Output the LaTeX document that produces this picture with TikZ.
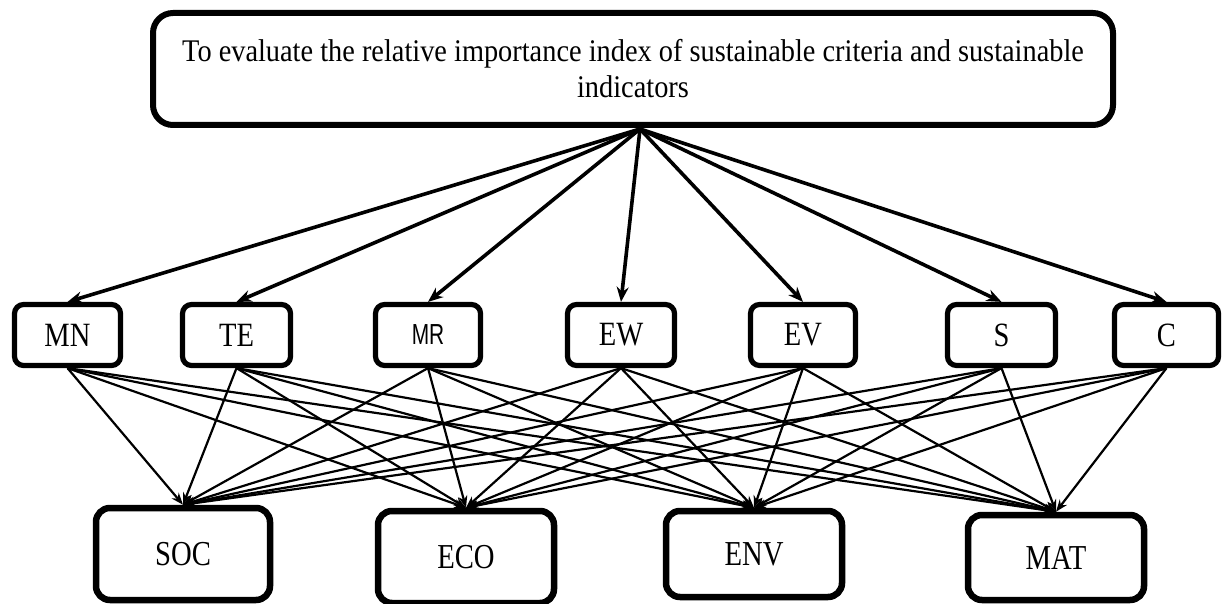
\documentclass[tikz,border=0pt]{standalone}
\usepackage{fontspec}
\setmainfont{Liberation Serif}
\newfontfamily\midfont[FakeStretch=0.84]{Liberation Serif}
\newfontfamily\botfont[FakeStretch=0.82]{Liberation Serif}
\newfontfamily\topfont[FakeStretch=0.9]{Liberation Serif}
\newfontfamily\mrfont[FakeStretch=0.72]{Liberation Sans}
\usetikzlibrary{arrows.meta,calc}
\begin{document}
\begin{tikzpicture}[x=1pt,y=-1pt,
  topbox/.style={draw,line width=6pt,rounded corners=20pt,minimum width=960pt,minimum height=112pt,inner sep=0pt,align=center,font=\topfont\fontsize{31.5}{36}\selectfont},
  midbox/.style={draw,line width=5.2pt,rounded corners=9pt,minimum height=61pt,inner sep=0pt,font=\midfont\fontsize{34}{34}\selectfont},
  botbox/.style={draw,line width=6.5pt,rounded corners=14pt,inner sep=0pt,font=\botfont\fontsize{35}{35}\selectfont},
  toparrow/.style={line width=3.6pt,-{Stealth[length=15pt,width=12pt]}},
  link/.style={line width=2.2pt,-{Stealth[length=12pt,width=9pt]}}]
\useasboundingbox (0,0) rectangle (1223,604);
\node[topbox] (goal) at (633,69) {To evaluate the relative importance index of sustainable criteria and sustainable\\indicators};
\coordinate (src) at (640,129);
\node[midbox,minimum width=106pt] (nmn) at (67.5,335) {\raisebox{-2pt}{MN}};
\node[midbox,minimum width=108pt] (nte) at (236.5,335) {\raisebox{-2pt}{TE}};
\node[midbox,minimum width=105pt,font=\mrfont\fontsize{29}{29}\selectfont] (nmr) at (428,335) {\raisebox{-2pt}{MR}};
\node[midbox,minimum width=107pt] (new) at (621,335) {\raisebox{-2pt}{EW}};
\node[midbox,minimum width=105pt] (nev) at (803,335) {\raisebox{-2pt}{EV}};
\node[midbox,minimum width=108pt] (ns) at (1001.5,335) {\raisebox{-2pt}{S}};
\node[midbox,minimum width=104pt] (nc) at (1166.5,335) {\raisebox{-2pt}{C}};
\node[botbox,minimum width=174pt,minimum height=92pt] (soc) at (183,554) {\raisebox{-3pt}{SOC}};
\node[botbox,minimum width=176pt,minimum height=92pt] (eco) at (466,557) {\raisebox{-3pt}{ECO}};
\node[botbox,minimum width=176pt,minimum height=86pt] (env) at (754,554) {\raisebox{-3pt}{ENV}};
\node[botbox,minimum width=176pt,minimum height=85pt] (mat) at (1056,557.5) {\raisebox{-3pt}{MAT}};
\foreach \m in {nmn,nte,nmr,new,nev,ns,nc}{
  \draw[toparrow] (src) -- (\m.north);
  \foreach \b in {soc,eco,env,mat}{
    \draw[link] (\m.south) -- (\b.north);
  }
}
\end{tikzpicture}
\end{document}
